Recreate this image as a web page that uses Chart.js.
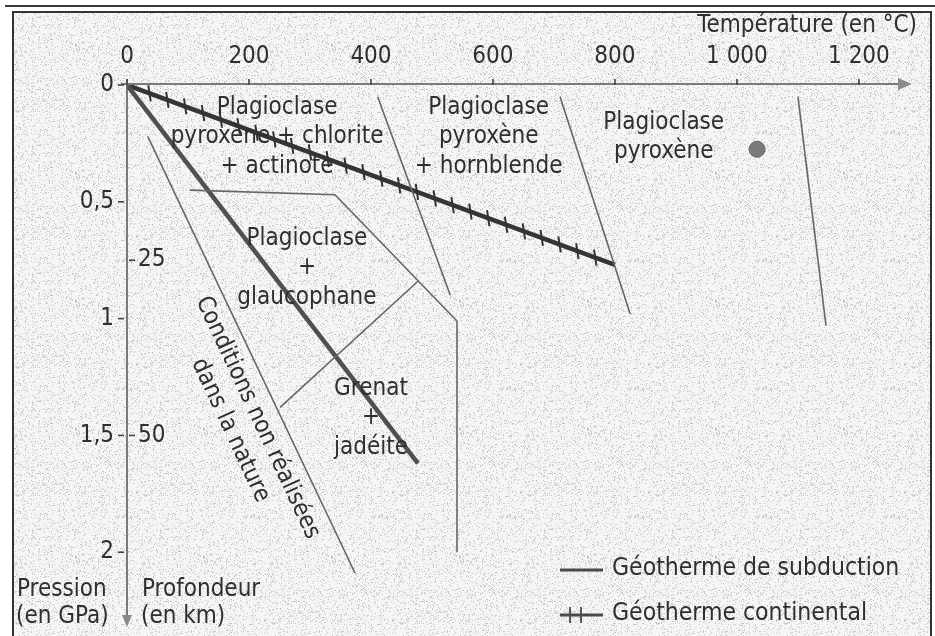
<!DOCTYPE html>
<html lang="fr">
<head>
<meta charset="utf-8">
<title>Géothermes et domaines métamorphiques</title>
<script src="https://cdn.jsdelivr.net/npm/chart.js@4.4.1/dist/chart.umd.min.js"></script>
<style>
  html, body { margin: 0; padding: 0; background: #fff; }
  #wrap { position: relative; width: 935px; height: 636px; }
</style>
</head>
<body>
<div id="wrap"><canvas id="myChart"></canvas></div>
<script>
// Axes : température (°C) en haut, pression (GPa) et profondeur (km) à gauche
const tempTicks = [0, 200, 400, 600, 800, 1000, 1200];
const pressureTicks = [0, 0.5, 1, 1.5, 2];
const depthTicks = [25, 50];
const tempMax = 1287;
const pressureMax = 2.32;
const kmPerGPa = 100 / 3;

// Géothermes (T en °C, P en GPa)
const subductionT = [0, 477];
const subductionP = [0, 1.62];
const continentalT = [0, 800];
const continentalP = [0, 0.77];

// Limites entre les domaines
const limitAT = [411, 530];
const limitAP = [0.05, 0.90];
const limitBT = [710, 825];
const limitBP = [0.05, 0.98];
const limitCT = [1100, 1146];
const limitCP = [0.05, 1.03];
const limitNatureT = [34, 374];
const limitNatureP = [0.22, 2.09];
const limitGlaucoT = [103, 341, 541, 541];
const limitGlaucoP = [0.45, 0.47, 1.01, 2.0];
const limitGrenatT = [251, 477];
const limitGrenatP = [1.38, 0.84];

// Point isolé (domaine plagioclase pyroxène)
const dotT = [1033];
const dotP = [0.275];

// Étiquettes des domaines (ancrage en °C / GPa)
const zoneLabels = [
    { t: 246, p: 0.097, lines: ['Plagioclase', 'pyroxène + chlorite', '+ actinote'] },
    { t: 593, p: 0.097, lines: ['Plagioclase', 'pyroxène', '+ hornblende'] },
    { t: 880, p: 0.161, lines: ['Plagioclase', 'pyroxène'] },
    { t: 295, p: 0.657, lines: ['Plagioclase', '+', 'glaucophane'] },
    { t: 400, p: 1.30, lines: ['Grenat', '+', 'jadéite'] }
];
const natureLabel = { t: 214, p: 1.424, angle: 65, lines: ['Conditions non réalisées', 'dans la nature'] };

const FONT = "'DejaVu Sans Condensed', 'Liberation Sans Narrow', 'DejaVu Sans', sans-serif";
const INK = '#2f2f2f';

function pts(ts, ps) {
    return ts.map((t, i) => ({ x: t, y: ps[i] }));
}

function thinLine(ts, ps) {
    return {
        data: pts(ts, ps),
        showLine: true,
        borderColor: '#666',
        borderWidth: 1.6,
        pointRadius: 0,
        fill: false
    };
}

// Texture grise pointillée (déterministe)
function makeTexture() {
    const c = document.createElement('canvas');
    c.width = 128; c.height = 128;
    const g = c.getContext('2d');
    const img = g.createImageData(128, 128);
    for (let y = 0; y < 128; y++) {
        for (let x = 0; x < 128; x++) {
            let n = Math.imul(x, 374761393) + Math.imul(y, 668265263);
            n = Math.imul(n ^ (n >>> 13), 1274126177);
            const h = ((n ^ (n >>> 16)) >>> 0) / 4294967296;
            const v = h < 0.13 ? 200 : 245;
            const i = (y * 128 + x) * 4;
            img.data[i] = v; img.data[i + 1] = v; img.data[i + 2] = v; img.data[i + 3] = 255;
        }
    }
    g.putImageData(img, 0, 0);
    return c;
}
const texture = makeTexture();

function fmtTemp(v) {
    return v >= 1000 ? Math.floor(v / 1000) + ' ' + String(v % 1000).padStart(3, '0') : String(v);
}

function drawTickedLine(ctx, x1, y1, x2, y2, spacing, half, start) {
    const len = Math.hypot(x2 - x1, y2 - y1);
    const ux = (x2 - x1) / len, uy = (y2 - y1) / len;
    ctx.beginPath();
    for (let s = start; s < len - 4; s += spacing) {
        const cx = x1 + ux * s, cy = y1 + uy * s;
        ctx.moveTo(cx - 0.15 * half, cy - half);
        ctx.lineTo(cx + 0.15 * half, cy + half);
    }
    ctx.stroke();
}

const diagramPlugin = {
    id: 'diagram',
    beforeDraw(chart) {
        const ctx = chart.ctx;
        ctx.save();
        ctx.fillStyle = '#fff';
        ctx.fillRect(0, 0, chart.width, chart.height);
        // filet du haut
        ctx.fillStyle = '#3a3a3a';
        ctx.fillRect(5, 5, chart.width - 5, 2);
        // cadre texturé
        ctx.fillStyle = ctx.createPattern(texture, 'repeat');
        ctx.fillRect(13, 12, 918, chart.height);
        ctx.strokeStyle = '#333';
        ctx.lineWidth = 2;
        ctx.strokeRect(13, 12, 918, chart.height + 10);
        ctx.restore();
    },
    beforeDatasetsDraw(chart) {
        const ctx = chart.ctx;
        const xs = chart.scales.x, ys = chart.scales.y, ks = chart.scales.km;
        const x0 = xs.getPixelForValue(0), y0 = ys.getPixelForValue(0);
        const xEnd = xs.right, yEnd = ys.bottom;
        ctx.save();
        ctx.strokeStyle = '#7a7a7a';
        ctx.fillStyle = '#8a8a8a';
        ctx.lineWidth = 2;
        // axe des températures
        ctx.beginPath();
        ctx.moveTo(x0 - 6, y0 - 1);
        ctx.lineTo(xEnd - 8, y0 - 1);
        ctx.stroke();
        ctx.beginPath();
        ctx.moveTo(xEnd, y0 - 1);
        ctx.lineTo(xEnd - 14, y0 - 7);
        ctx.lineTo(xEnd - 14, y0 + 5);
        ctx.closePath();
        ctx.fill();
        // axe des pressions
        ctx.beginPath();
        ctx.moveTo(x0, y0 - 6);
        ctx.lineTo(x0, yEnd - 8);
        ctx.stroke();
        ctx.beginPath();
        ctx.moveTo(x0, yEnd);
        ctx.lineTo(x0 - 5, yEnd - 12);
        ctx.lineTo(x0 + 5, yEnd - 12);
        ctx.closePath();
        ctx.fill();

        ctx.strokeStyle = '#444';
        ctx.lineWidth = 1.6;
        ctx.fillStyle = INK;
        ctx.font = '24px ' + FONT;
        // graduations température
        ctx.textAlign = 'center';
        ctx.textBaseline = 'middle';
        tempTicks.forEach(v => {
            const px = xs.getPixelForValue(v);
            ctx.beginPath();
            ctx.moveTo(px, y0 - 6);
            ctx.lineTo(px, y0);
            ctx.stroke();
            ctx.fillText(fmtTemp(v), px, y0 - 28);
        });
        // graduations pression
        ctx.textAlign = 'right';
        pressureTicks.forEach(v => {
            const py = ys.getPixelForValue(v);
            ctx.beginPath();
            ctx.moveTo(x0 - 9, py);
            ctx.lineTo(x0 - 3, py);
            ctx.stroke();
            ctx.fillText(String(v).replace('.', ','), x0 - 13, py);
        });
        // graduations profondeur
        ctx.textAlign = 'left';
        depthTicks.forEach(v => {
            const py = ks.getPixelForValue(v);
            ctx.beginPath();
            ctx.moveTo(x0 + 2, py);
            ctx.lineTo(x0 + 8, py);
            ctx.stroke();
            ctx.fillText(String(v), x0 + 11, py);
        });
        ctx.restore();
    },
    afterDatasetsDraw(chart) {
        const ctx = chart.ctx;
        const xs = chart.scales.x, ys = chart.scales.y;
        ctx.save();
        // hachures du géotherme continental
        ctx.strokeStyle = '#333';
        ctx.lineWidth = 2;
        drawTickedLine(ctx,
            xs.getPixelForValue(continentalT[0]), ys.getPixelForValue(continentalP[0]),
            xs.getPixelForValue(continentalT[1]), ys.getPixelForValue(continentalP[1]),
            19, 8, 24);

        ctx.fillStyle = INK;
        ctx.textAlign = 'center';
        ctx.textBaseline = 'middle';
        ctx.font = '24px ' + FONT;
        zoneLabels.forEach(z => {
            const px = xs.getPixelForValue(z.t), py = ys.getPixelForValue(z.p);
            z.lines.forEach((s, i) => ctx.fillText(s, px, py + i * 29.5));
        });
        // texte incliné
        ctx.save();
        ctx.translate(xs.getPixelForValue(natureLabel.t), ys.getPixelForValue(natureLabel.p));
        ctx.rotate(natureLabel.angle * Math.PI / 180);
        natureLabel.lines.forEach((s, i) => ctx.fillText(s, 0, i * 30));
        ctx.restore();

        // titres des axes
        ctx.font = '24px ' + FONT;
        ctx.textAlign = 'right';
        ctx.fillText('Température (en °C)', 917, 26);
        ctx.textAlign = 'left';
        ctx.fillText('Pression', 17, 590);
        ctx.fillText('(en GPa)', 16, 617);
        ctx.fillText('Profondeur', 142, 590);
        ctx.fillText('(en km)', 141, 617);

        // légende
        ctx.strokeStyle = '#4a4a4a';
        ctx.lineWidth = 3;
        ctx.beginPath();
        ctx.moveTo(560, 570); ctx.lineTo(603, 570);
        ctx.moveTo(560, 615); ctx.lineTo(603, 615);
        ctx.stroke();
        ctx.lineWidth = 1.8;
        ctx.beginPath();
        ctx.moveTo(570, 607); ctx.lineTo(570, 623);
        ctx.moveTo(581, 607); ctx.lineTo(581, 623);
        ctx.stroke();
        ctx.font = '24.5px ' + FONT;
        ctx.fillText('Géotherme de subduction', 612, 569);
        ctx.fillText('Géotherme continental', 612, 614);
        ctx.restore();
    }
};

const ctx = document.getElementById('myChart').getContext('2d');
const myChart = new Chart(ctx, {
    type: 'scatter',
    data: {
        datasets: [
            thinLine(limitAT, limitAP),
            thinLine(limitBT, limitBP),
            thinLine(limitCT, limitCP),
            thinLine(limitNatureT, limitNatureP),
            thinLine(limitGlaucoT, limitGlaucoP),
            thinLine(limitGrenatT, limitGrenatP),
            {
                label: 'Géotherme de subduction',
                data: pts(subductionT, subductionP),
                showLine: true,
                borderColor: '#505050',
                borderWidth: 4.5,
                pointRadius: 0
            },
            {
                label: 'Géotherme continental',
                data: pts(continentalT, continentalP),
                showLine: true,
                borderColor: '#353535',
                borderWidth: 4.5,
                pointRadius: 0
            },
            {
                data: pts(dotT, dotP),
                pointRadius: 8,
                pointBackgroundColor: '#7a7a7a',
                pointBorderColor: '#6a6a6a',
                pointBorderWidth: 1
            }
        ]
    },
    options: {
        responsive: true,
        maintainAspectRatio: false,
        animation: false,
        layout: {
            padding: { left: 127, top: 85, right: 23, bottom: 3.5 }
        },
        plugins: {
            legend: { display: false },
            tooltip: { enabled: false },
            title: { display: false }
        },
        scales: {
            x: { type: 'linear', min: 0, max: tempMax, display: false },
            y: { type: 'linear', min: 0, max: pressureMax, reverse: true, display: false },
            km: { type: 'linear', axis: 'y', min: 0, max: pressureMax * kmPerGPa, reverse: true, display: false }
        }
    },
    plugins: [diagramPlugin]
});
</script>
</body>
</html>
